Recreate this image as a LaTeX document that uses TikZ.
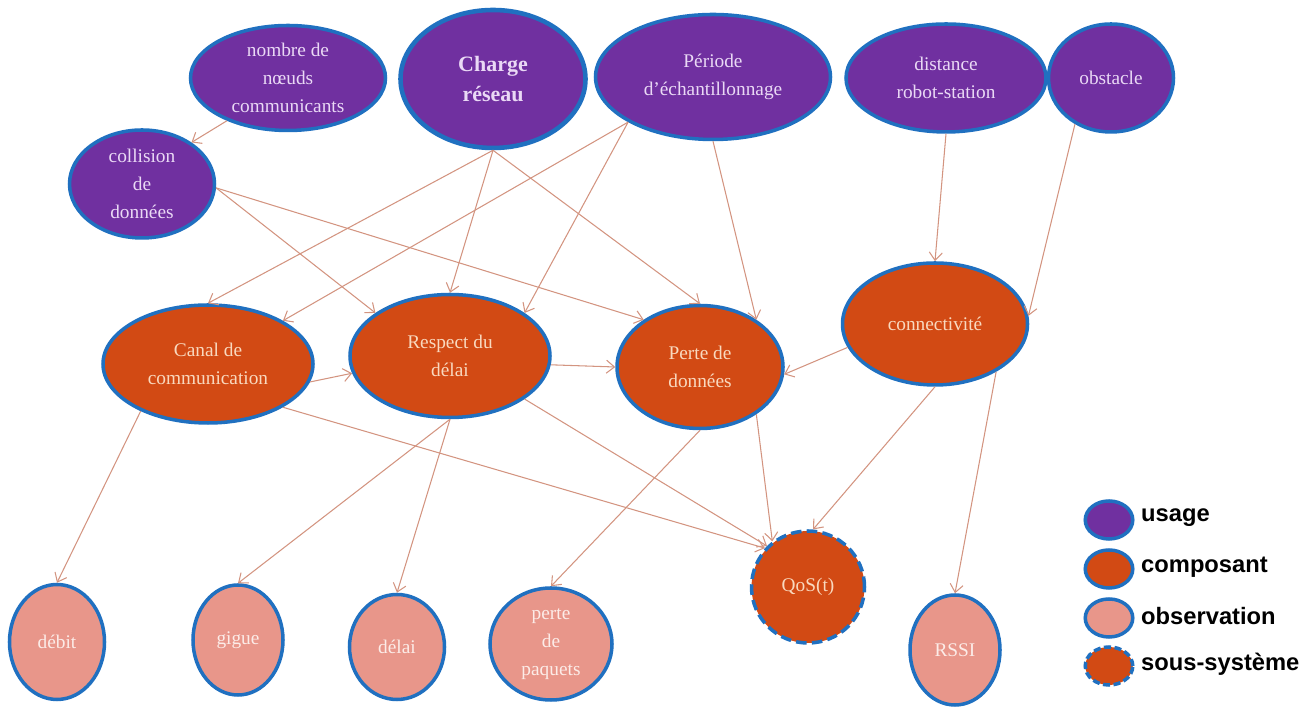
\documentclass[tikz,border=0pt]{standalone}
\usepackage{fontspec}
\setmainfont{Liberation Serif}
\newfontfamily\legendfont{Liberation Sans}
\usetikzlibrary{shapes.geometric,arrows.meta}

\definecolor{bordercol}{HTML}{2070C0}
\definecolor{usagecol}{HTML}{7030A0}
\definecolor{usagetext}{HTML}{EAD9F5}
\definecolor{compcol}{HTML}{D24A14}
\definecolor{comptext}{HTML}{F9D9BF}
\definecolor{obscol}{HTML}{E8968A}
\definecolor{obstext}{HTML}{FCECE8}
\definecolor{flowcol}{HTML}{D39480}

\begin{document}
\begin{tikzpicture}[
  base/.style={ellipse, draw=bordercol, line width=2pt, inner sep=0pt, align=center,
    font=\fontsize{11}{16}\selectfont},
  usage/.style={base, fill=usagecol, text=usagetext},
  composant/.style={base, fill=compcol, text=comptext},
  observation/.style={base, fill=obscol, text=obstext},
  soussys/.style={composant, dash pattern=on 6pt off 3pt},
  flow/.style={draw=flowcol, line width=0.6pt, -{Straight Barb[length=1.6mm,width=2.6mm]}},
  keytext/.style={anchor=west, font=\legendfont\bfseries\fontsize{13.5}{15}\selectfont}
]
\useasboundingbox (0,0) rectangle (26.3,14.18);

% usage
\node [usage, minimum width=3.9cm, minimum height=2.1cm] (nombre) at (5.76,12.62) {nombre de\\n\oe uds\\communicants};
\node [usage, minimum width=3.7cm, minimum height=2.76cm, line width=2.6pt, font=\fontsize{12.5}{17}\selectfont\bfseries] (charge) at (9.86,12.60) {Charge\\réseau};
\node [usage, minimum width=4.7cm, minimum height=2.5cm] (periode) at (14.26,12.64) {Période\\d’échantillonnage};
\node [usage, minimum width=4.0cm, minimum height=2.16cm] (distance) at (18.92,12.62) {distance\\robot-station};
\node [usage, minimum width=2.5cm, minimum height=2.16cm] (obstacle) at (22.22,12.62) {obstacle};
\node [usage, minimum width=2.9cm, minimum height=2.16cm] (collision) at (2.84,10.50) {collision\\de\\données};

% composants
\node [composant, minimum width=4.2cm, minimum height=2.36cm] (canal) at (4.16,6.90) {Canal de\\communication};
\node [composant, minimum width=4.0cm, minimum height=2.46cm] (respect) at (9.0,7.06) {Respect du\\délai};
\node [composant, minimum width=3.32cm, minimum height=2.46cm] (perte) at (14.0,6.84) {Perte de\\données};
\node [composant, minimum width=3.7cm, minimum height=2.44cm] (connect) at (18.70,7.70) {connectivité};
\node [soussys, minimum width=2.26cm, minimum height=2.24cm] (qos) at (16.16,2.44) {QoS(t)};

% observations
\node [observation, minimum width=1.9cm, minimum height=2.3cm] (debit) at (1.14,1.34) {débit};
\node [observation, minimum width=1.8cm, minimum height=2.2cm] (gigue) at (4.76,1.38) {gigue};
\node [observation, minimum width=1.9cm, minimum height=2.1cm] (delai) at (7.94,1.24) {délai};
\node [observation, minimum width=2.44cm, minimum height=2.24cm] (paquets) at (11.02,1.30) {perte\\de\\paquets};
\node [observation, minimum width=1.8cm, minimum height=2.2cm] (rssi) at (19.10,1.18) {RSSI};

\draw  (nombre.215) edge[flow] (collision.40);
\draw  (charge.south) edge[flow] (canal.north);
\draw  (charge.south) edge[flow] (respect.north);
\draw  (charge.south) edge[flow] (perte.north);
\draw  (periode.208) edge[flow] (canal.30);
\draw  (periode.208) edge[flow] (respect.30);
\draw  (periode.south) edge[flow] (perte.40);
\draw  (collision.-3) edge[flow] (respect.150);
\draw  (collision.-3) edge[flow] (perte.140);
\draw  (distance.south) edge[flow] (connect.north);
\draw  (obstacle.232) edge[flow] (connect.5);

\draw  (canal.-10) edge[flow] (respect.190);
\draw  (respect.-5) edge[flow] (perte.180);
\draw  (connect.195) edge[flow] (perte.-5);

\draw  (canal.215) edge[flow] (debit.north);
\draw  (canal.-30) edge[flow] (qos.138);
\draw  (respect.south) edge[flow] (gigue.north);
\draw  (respect.south) edge[flow] (delai.north);
\draw  (respect.-30) edge[flow] (qos.135);
\draw  (perte.south) edge[flow] (paquets.north);
\draw  (perte.-40) edge[flow] (qos.128);
\draw  (connect.south) edge[flow] (qos.85);
\draw  (connect.-38) edge[flow] (rssi.north);

% legende
\node [usage, minimum width=0.95cm, minimum height=0.76cm] (kusage) at (22.18,3.78) {};
\node [composant, minimum width=0.95cm, minimum height=0.76cm] (kcomp) at (22.18,2.80) {};
\node [observation, minimum width=0.95cm, minimum height=0.76cm] (kobs) at (22.18,1.82) {};
\node [soussys, minimum width=0.95cm, minimum height=0.76cm, dash pattern=on 4pt off 2pt] (ksous) at (22.18,0.86) {};
\node [keytext] (lusage) at (22.70,3.82) {usage};
\node [keytext] (lcomp) at (22.70,2.84) {composant};
\node [keytext] (lobs) at (22.70,1.86) {observation};
\node [keytext] (lsous) at (22.70,0.90) {sous-système};
\end{tikzpicture}
\end{document}
